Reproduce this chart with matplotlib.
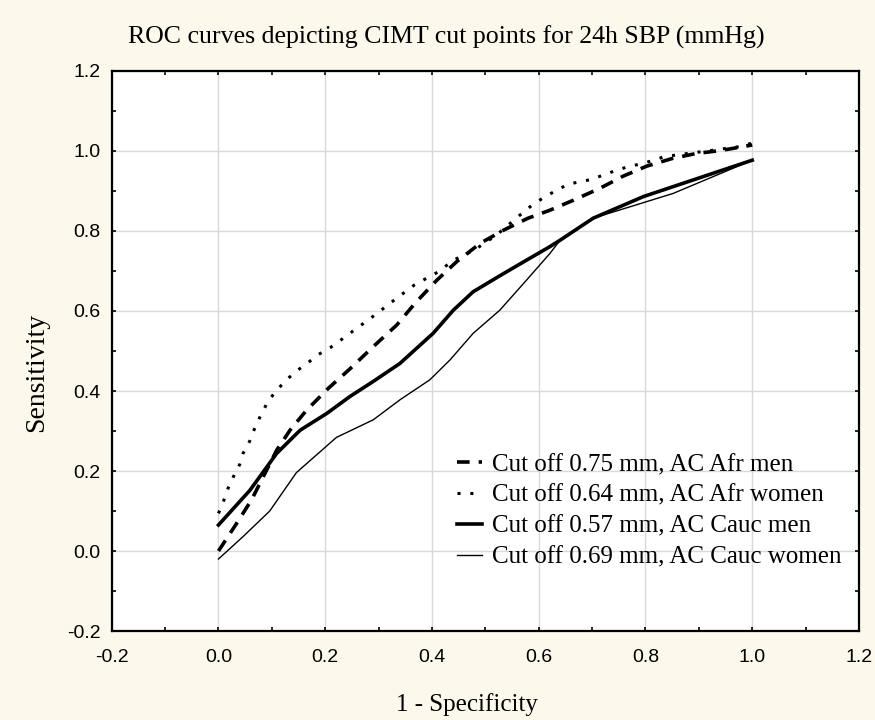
import matplotlib
matplotlib.use("Agg")
import matplotlib.pyplot as plt
from matplotlib.ticker import MultipleLocator

# ROC curve points (1 - specificity, sensitivity)
afr_men_x = [0.0, 0.034, 0.062, 0.084, 0.109, 0.134, 0.165, 0.206, 0.246, 0.29, 0.334,
             0.368, 0.409, 0.446, 0.49, 0.534, 0.58, 0.621, 0.665, 0.715, 0.758, 0.802,
             0.852, 0.896, 0.94, 1.0]
afr_men_y = [0.0, 0.069, 0.128, 0.186, 0.252, 0.302, 0.352, 0.407, 0.455, 0.511, 0.565,
             0.619, 0.677, 0.723, 0.769, 0.802, 0.832, 0.852, 0.877, 0.907, 0.937, 0.962,
             0.982, 0.994, 1.001, 1.015]

afr_women_x = [0.0, 0.009, 0.018, 0.028, 0.04, 0.046, 0.059, 0.067, 0.078, 0.09, 0.104,
               0.123, 0.143, 0.164, 0.187, 0.209, 0.234, 0.254, 0.278, 0.3, 0.321, 0.344,
               0.367, 0.39, 0.412, 0.44, 0.479, 0.521, 0.565, 0.587, 0.612, 0.634, 0.655,
               0.677, 0.699, 0.721, 0.746, 0.768, 0.796, 0.836, 0.88, 0.927, 0.977, 1.0]
afr_women_y = [0.094, 0.123, 0.157, 0.186, 0.217, 0.244, 0.276, 0.304, 0.336, 0.367, 0.394,
               0.422, 0.447, 0.467, 0.491, 0.508, 0.532, 0.552, 0.575, 0.597, 0.619, 0.642,
               0.665, 0.682, 0.698, 0.727, 0.752, 0.79, 0.84, 0.864, 0.886, 0.902, 0.917,
               0.923, 0.929, 0.94, 0.952, 0.961, 0.969, 0.986, 0.994, 1.002, 1.011, 1.02]

cauc_men_x = [0.0, 0.059, 0.109, 0.153, 0.203, 0.246, 0.29, 0.34, 0.402, 0.44, 0.477,
              0.527, 0.577, 0.621, 0.64, 0.702, 0.796, 1.0]
cauc_men_y = [0.065, 0.152, 0.244, 0.302, 0.344, 0.386, 0.424, 0.469, 0.544, 0.602, 0.648,
              0.688, 0.727, 0.761, 0.777, 0.832, 0.886, 0.977]

cauc_women_x = [0.0, 0.046, 0.096, 0.146, 0.221, 0.29, 0.34, 0.396, 0.434, 0.477, 0.527,
                0.577, 0.621, 0.64, 0.702, 0.852, 1.0]
cauc_women_y = [-0.02, 0.036, 0.1, 0.196, 0.284, 0.328, 0.378, 0.428, 0.478, 0.544, 0.602,
                0.677, 0.744, 0.777, 0.832, 0.894, 0.977]

labels = ["Cut off 0.75 mm, AC Afr men", "Cut off 0.64 mm, AC Afr women",
          "Cut off 0.57 mm, AC Cauc men", "Cut off 0.69 mm, AC Cauc women"]
ticks = [-0.2, 0.0, 0.2, 0.4, 0.6, 0.8, 1.0, 1.2]

bg = "#fdf8ec"
fig = plt.figure(figsize=(8.75, 7.2), dpi=100, facecolor=bg)
ax = fig.add_axes([0.1277, 0.1236, 0.854, 0.7778])
ax.set_facecolor("white")

ax.plot(afr_men_x, afr_men_y, color="black", lw=2.6, ls=(0, (3.5, 2.5)), label=labels[0])
ax.plot(afr_women_x, afr_women_y, color="black", lw=2.2, ls=(0, (1, 3.2)), label=labels[1])
ax.plot(cauc_men_x, cauc_men_y, color="black", lw=2.6, label=labels[2])
ax.plot(cauc_women_x, cauc_women_y, color="black", lw=1.0, label=labels[3])

ax.set_xlim(-0.2, 1.2)
ax.set_ylim(-0.2, 1.2)
ax.set_xticks(ticks)
ax.set_yticks(ticks)
ax.set_xticklabels(["%.1f" % t for t in ticks])
ax.set_yticklabels(["%.1f" % t for t in ticks])
ax.xaxis.set_minor_locator(MultipleLocator(0.1))
ax.yaxis.set_minor_locator(MultipleLocator(0.1))
ax.tick_params(which="both", direction="in", top=True, right=True, length=3, width=1.2,
               color="black")
ax.tick_params(axis="x", which="major", pad=13, labelsize=14)
ax.tick_params(axis="y", which="major", pad=8, labelsize=14)
for lab in ax.get_xticklabels() + ax.get_yticklabels():
    lab.set_family("Liberation Sans")
ax.grid(True, which="major", color="#d9d9d9", lw=1.0)
ax.set_axisbelow(True)
for s in ax.spines.values():
    s.set_linewidth(1.6)
    s.set_color("black")

leg = ax.legend(loc="upper left", bbox_to_anchor=(0.445, 0.339), frameon=False,
                prop={"family": "Liberation Serif", "size": 18}, handlelength=1.0,
                handletextpad=0.4, labelspacing=0.33, borderpad=0)

fig.text(446 / 875, 1 - 37 / 720, "ROC curves depicting CIMT cut points for 24h SBP (mmHg)",
         ha="center", va="center", family="Liberation Serif", fontsize=18.6)
fig.text(467 / 875, 1 - 705 / 720, "1 - Specificity", ha="center", va="center",
         family="Liberation Serif", fontsize=18)
fig.text(37 / 875, 1 - 372 / 720, "Sensitivity", ha="center", va="center", rotation=90,
         family="Liberation Serif", fontsize=20)

fig.savefig("out.png", dpi=100, facecolor=bg)
